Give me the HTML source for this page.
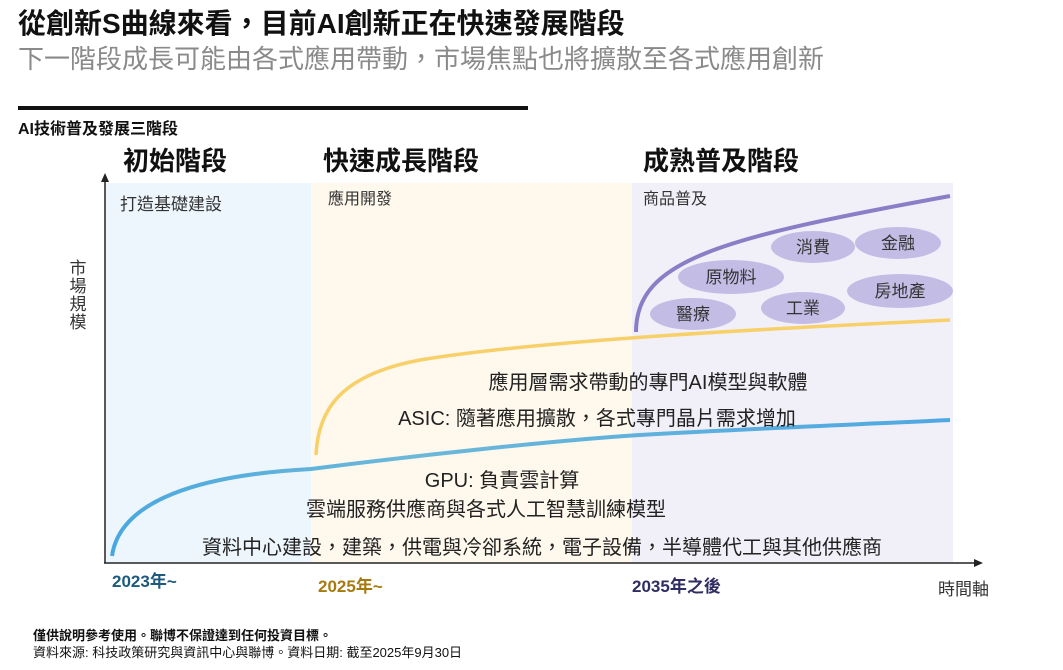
<!DOCTYPE html>
<html><head><meta charset="utf-8"><style>
html,body{margin:0;padding:0;background:#fff;}
svg{display:block;font-family:"Liberation Sans","Noto Sans CJK TC",sans-serif;}
</style></head><body>
<svg width="1063" height="670" viewBox="0 0 1063 670" xmlns="http://www.w3.org/2000/svg">
<defs>
<linearGradient id="bg" x1="0" x2="1" y1="0" y2="0">
<stop offset="0" stop-color="#4aa8e0"/><stop offset="0.35" stop-color="#6cb8d8"/><stop offset="1" stop-color="#4fa8e2"/>
</linearGradient>
</defs>
<text x="18" y="33" font-size="28" font-weight="bold" fill="#111">從創新S曲線來看，目前AI創新正在快速發展階段</text>
<text x="18" y="68" font-size="26" fill="#8a8a8a">下一階段成長可能由各式應用帶動，市場焦點也將擴散至各式應用創新</text>
<rect x="18" y="106" width="510" height="4" fill="#111"/>
<text x="18" y="134" font-size="16" font-weight="bold" fill="#111">AI技術普及發展三階段</text>
<text x="123" y="170" font-size="26" font-weight="bold" fill="#111">初始階段</text>
<text x="323" y="170" font-size="26" font-weight="bold" fill="#111">快速成長階段</text>
<text x="643" y="170" font-size="26" font-weight="bold" fill="#111">成熟普及階段</text>
<rect x="106" y="183" width="205" height="379" fill="#eef6fd"/>
<rect x="311" y="183" width="321" height="379" fill="#fef8ed"/>
<rect x="632" y="183" width="321" height="379" fill="#f1f0f9"/>
<text x="120" y="210" font-size="17" fill="#333">打造基礎建設</text>
<text x="328" y="204" font-size="16" fill="#333">應用開發</text>
<text x="643" y="204" font-size="16" fill="#333">商品普及</text>
<g font-size="17" fill="#333" text-anchor="middle">
<text x="78" y="274">市</text><text x="78" y="292">場</text><text x="78" y="310">規</text><text x="78" y="328">模</text>
</g>
<line x1="105" y1="180" x2="105" y2="563" stroke="#222" stroke-width="1.5"/>
<polygon points="105,173 101,182 109,182" fill="#222"/>
<line x1="104" y1="563" x2="975" y2="563" stroke="#222" stroke-width="1.5"/>
<polygon points="983,563 974,559 974,567" fill="#222"/>
<path d="M112,556 C120,500 200,475 311,469 C420,455 560,440 640,435 C760,428 870,424 950,420" fill="none" stroke="url(#bg)" stroke-width="4"/>
<path d="M316,455 C318,410 340,375 420,360 C540,340 780,328 950,320" fill="none" stroke="#f7d06a" stroke-width="3.5"/>
<path d="M636,332 C636,260 720,238 950,196" fill="none" stroke="#8a7fc6" stroke-width="4"/>
<g fill="#c3bde5">
<ellipse cx="813" cy="247" rx="42" ry="16"/>
<ellipse cx="898" cy="243" rx="43" ry="16"/>
<ellipse cx="731" cy="277" rx="53" ry="17"/>
<ellipse cx="900" cy="291" rx="53" ry="17"/>
<ellipse cx="803" cy="308" rx="42" ry="16"/>
<ellipse cx="693" cy="314" rx="43" ry="16"/>
</g>
<g font-size="17" fill="#333" text-anchor="middle">
<text x="813" y="253">消費</text><text x="898" y="249">金融</text>
<text x="731" y="283">原物料</text><text x="900" y="297">房地產</text>
<text x="803" y="314">工業</text><text x="693" y="320">醫療</text>
</g>
<g font-size="20" fill="#222" text-anchor="middle">
<text x="648" y="389">應用層需求帶動的專門AI模型與軟體</text>
<text x="597" y="425">ASIC: 隨著應用擴散，各式專門晶片需求增加</text>
<text x="502" y="487">GPU: 負責雲計算</text>
<text x="486" y="516">雲端服務供應商與各式人工智慧訓練模型</text>
<text x="542" y="554">資料中心建設，建築，供電與冷卻系統，電子設備，半導體代工與其他供應商</text>
</g>
<text x="112" y="587" font-size="17" font-weight="bold" fill="#1d5a7c">2023年~</text>
<text x="318" y="592" font-size="17" font-weight="bold" fill="#a77a10">2025年~</text>
<text x="632" y="592" font-size="17" font-weight="bold" fill="#2f2d62">2035年之後</text>
<text x="938" y="595" font-size="17" fill="#333">時間軸</text>
<text x="33" y="640" font-size="13" font-weight="bold" fill="#111">僅供說明參考使用。聯博不保證達到任何投資目標。</text>
<text x="33" y="657" font-size="13" fill="#111">資料來源: 科技政策研究與資訊中心與聯博。資料日期: 截至2025年9月30日</text>
</svg>
</body></html>
